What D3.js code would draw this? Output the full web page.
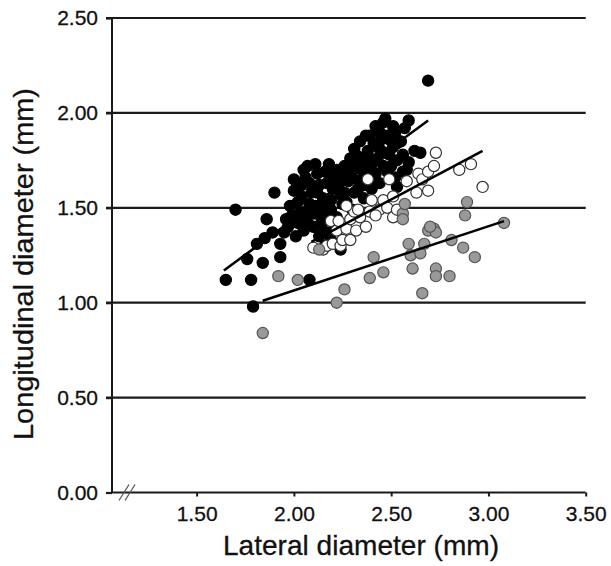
<!DOCTYPE html>
<html>
<head>
<meta charset="utf-8">
<script src="https://cdn.jsdelivr.net/npm/d3@7"></script>
<style>
  body { margin: 0; background: #fff; }
  text { font-family: "Liberation Sans", Arial, sans-serif; fill: #111; }
</style>
</head>
<body>
<svg id="chart" width="611" height="566"></svg>
<script>
// tick values
var xTicks = [1.5, 2.0, 2.5, 3.0, 3.5];
var yTicks = [0, 0.5, 1.0, 1.5, 2.0, 2.5];

// black group [lateral, longitudinal]
var blackPts = [
  [1.65,1.12],[1.70,1.49],[1.79,0.98],[1.78,1.12],[1.76,1.23],[1.81,1.31],
  [1.84,1.21],[1.85,1.34],[1.86,1.44],[1.90,1.58],[1.93,1.24],[1.93,1.31],
  [1.89,1.37],[2.08,1.12],[2.69,2.17],[1.96,1.44],[1.98,1.51],[2.00,1.59],
  [2.01,1.35],[2.07,1.72],[2.11,1.73],[2.18,1.73],[2.22,1.70],[2.31,1.81],
  [2.34,1.85],[2.37,1.88],[2.46,1.95],[2.51,1.93],[2.59,1.96],[2.47,1.97],
  [2.48,1.88],[2.39,1.88],[2.51,1.82],[2.44,1.81],[2.37,1.77],[2.53,1.75],
  [2.59,1.74],[2.65,1.79],[2.46,1.72],[2.48,1.69],[2.58,1.70],[2.32,1.72],
  [2.40,1.73],[2.34,1.63],[2.31,1.58],[2.08,1.63],[2.17,1.63],[2.25,1.66],
  [2.08,1.52],[2.19,1.54],[2.25,1.52],[2.03,1.47],[2.14,1.45],[2.07,1.42],
  [2.17,1.37],[2.22,1.31],[2.24,1.28],[2.00,1.65],[2.04,1.56],[2.12,1.58],
  [2.12,1.68],[2.15,1.50],[2.20,1.60],[2.22,1.45],[2.26,1.58],[2.28,1.70],
  [2.28,1.64],[2.30,1.49],[2.35,1.70],[2.36,1.55],[2.38,1.80],[2.40,1.60],
  [2.42,1.68],[2.43,1.76],[2.44,1.63],[2.45,1.86],[2.49,1.78],[2.52,1.66],
  [2.55,1.85],[2.56,1.78],[2.53,1.61],[2.62,1.80],[2.56,1.69],[1.97,1.40],
  [2.02,1.42],[2.05,1.38],[2.10,1.40],[2.13,1.35],[2.19,1.33],[2.16,1.30],
  [2.06,1.48],[2.10,1.47],[1.99,1.46],[2.04,1.62],[2.15,1.55],[2.18,1.46],
  [2.21,1.39],[2.24,1.57],[2.27,1.53],[2.29,1.76],[2.33,1.77],[2.36,1.66],
  [2.39,1.70],[2.41,1.84],[2.44,1.90],[2.49,1.86],[2.52,1.89],[2.57,1.92],
  [2.42,1.93],[2.36,1.62],[2.02,1.53],[2.06,1.66],[2.09,1.58],[2.13,1.62],
  [2.16,1.69],[2.20,1.66],[2.23,1.62],[2.26,1.72],[2.30,1.66],[2.33,1.60],
  [2.14,1.41],[2.11,1.51],[2.19,1.49],[2.05,1.44],[2.39,1.76],[2.47,1.79],
  [2.50,1.72],[2.42,1.64],[2.35,1.74],[2.53,1.84],[2.05,1.70],[1.95,1.37]
];

// white group
var whitePts = [
  [2.10,1.29],[2.15,1.28],[2.17,1.30],[2.20,1.31],[2.24,1.30],[2.25,1.33],
  [2.29,1.33],[2.22,1.38],[2.27,1.39],[2.32,1.38],[2.37,1.40],[2.19,1.43],
  [2.23,1.43],[2.29,1.44],[2.34,1.45],[2.31,1.48],[2.27,1.51],[2.33,1.49],
  [2.39,1.48],[2.40,1.54],[2.44,1.49],[2.46,1.54],[2.48,1.50],[2.51,1.45],
  [2.51,1.56],[2.53,1.49],[2.38,1.65],[2.49,1.65],[2.58,1.64],[2.63,1.58],
  [2.64,1.68],[2.66,1.65],[2.69,1.69],[2.69,1.59],[2.72,1.72],[2.73,1.79],
  [2.85,1.70],[2.91,1.73],[2.97,1.61],[2.42,1.46]
];

// grey group
var greyPts = [
  [1.84,0.84],[1.92,1.14],[2.02,1.12],[2.26,1.07],[2.22,1.00],[2.13,1.28],
  [2.41,1.24],[2.46,1.16],[2.39,1.13],[2.59,1.31],[2.60,1.25],[2.61,1.18],
  [2.65,1.26],[2.67,1.31],[2.69,1.38],[2.72,1.39],[2.73,1.37],[2.66,1.05],
  [2.73,1.18],[2.73,1.14],[2.80,1.14],[2.81,1.33],[2.87,1.29],[2.93,1.24],
  [2.88,1.46],[2.89,1.53],[3.08,1.42],[2.56,1.47],[2.56,1.44],[2.57,1.52],
  [2.70,1.40]
];

// fitted lines, end points
var blackFit = [[1.64,1.17],[2.69,1.96]];
var whiteFit = [[2.09,1.32],[2.97,1.80]];
var greyFit  = [[1.84,1.01],[3.08,1.43]];

var svg = d3.select("#chart");

var x = d3.scaleLinear().domain([1.065, 3.5]).range([112, 585.7]);
var y = d3.scaleLinear().domain([0, 2.5]).range([492.5, 18]);

// horizontal grid lines (with little tick to the left)
svg.append("g").selectAll("line")
  .data(yTicks.filter(function(d){ return d > 0; }))
  .enter().append("line")
  .attr("x1", 106).attr("x2", x(3.5))
  .attr("y1", function(d){ return y(d); })
  .attr("y2", function(d){ return y(d); })
  .attr("stroke", "#1a1a1a").attr("stroke-width", 2.2);

// y axis
var yAxis = d3.axisLeft(y).tickValues(yTicks)
  .tickFormat(d3.format(".2f")).tickSize(6).tickPadding(8);
var gy = svg.append("g").attr("transform", "translate(112,0)").call(yAxis);
gy.select(".domain").attr("stroke", "#1a1a1a").attr("stroke-width", 2)
  .attr("d", "M0," + y(2.5) + "V" + y(0));
gy.selectAll(".tick line").attr("stroke", "#1a1a1a").attr("stroke-width", 2.2);
gy.selectAll(".tick text").style("font-size", "21px")
  .style("font-family", "'Liberation Sans', Arial, sans-serif")
  .attr("fill", "#111").attr("stroke", "#111").attr("stroke-width", 0.3);

// x axis
var xAxis = d3.axisBottom(x).tickValues(xTicks)
  .tickFormat(d3.format(".2f")).tickSize(4).tickPadding(10);
var gx = svg.append("g").attr("transform", "translate(0," + y(0) + ")").call(xAxis);
gx.select(".domain").attr("stroke", "#1a1a1a").attr("stroke-width", 2.2)
  .attr("d", "M112,0H" + x(3.5));
gx.selectAll(".tick line").attr("stroke", "#1a1a1a").attr("stroke-width", 2);
gx.selectAll(".tick text").style("font-size", "21px")
  .style("font-family", "'Liberation Sans', Arial, sans-serif")
  .attr("fill", "#111").attr("stroke", "#111").attr("stroke-width", 0.3);

// axis break marks
[0, 6].forEach(function(off){
  svg.append("line")
    .attr("x1", 119 + off).attr("y1", y(0) + 8)
    .attr("x2", 129 + off).attr("y2", y(0) - 8)
    .attr("stroke", "#555").attr("stroke-width", 1.3);
});

function dots(data, fill, stroke){
  svg.append("g").selectAll("circle")
    .data(data).enter().append("circle")
    .attr("cx", function(d){ return x(d[0]); })
    .attr("cy", function(d){ return y(d[1]); })
    .attr("r", 5.6)
    .attr("fill", fill)
    .attr("stroke", stroke)
    .attr("stroke-width", 1.2);
}
dots(blackPts, "#000", "#000");
dots(whitePts, "#fff", "#333");
dots(greyPts, "#999", "#555");

var line = d3.line()
  .x(function(d){ return x(d[0]); })
  .y(function(d){ return y(d[1]); });
[blackFit, whiteFit, greyFit].forEach(function(f){
  svg.append("path").attr("d", line(f))
    .attr("fill", "none").attr("stroke", "#000").attr("stroke-width", 2.5);
});

// axis titles
svg.append("text")
  .attr("x", 361).attr("y", 555)
  .attr("text-anchor", "middle")
  .attr("textLength", 276).attr("lengthAdjust", "spacingAndGlyphs")
  .style("font-size", "28px")
  .attr("stroke", "#111").attr("stroke-width", 0.3)
  .text("Lateral diameter (mm)");

svg.append("text")
  .attr("transform", "translate(33,264) rotate(-90)")
  .attr("text-anchor", "middle")
  .attr("textLength", 352).attr("lengthAdjust", "spacingAndGlyphs")
  .style("font-size", "28px")
  .attr("stroke", "#111").attr("stroke-width", 0.3)
  .text("Longitudinal diameter (mm)");
</script>
</body>
</html>
